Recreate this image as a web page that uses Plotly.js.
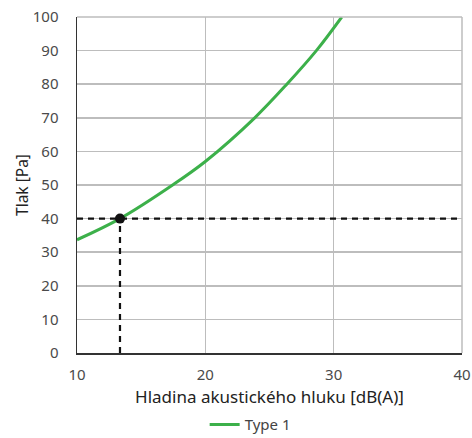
<!DOCTYPE html>
<html>
<head>
<meta charset="utf-8">
<script src="https://cdn.plot.ly/plotly-3.0.1.min.js"></script>
<style>html,body{margin:0;padding:0;background:#fff;}#chart{width:472px;height:438px;}</style>
</head>
<body>
<div id="chart"></div>
<script>
// Curve
const curveX = [10, 13.35, 17.45, 20, 23.85, 26.35, 28.65, 30.63];
const curveY = [33.7, 40, 50, 57, 70, 80, 90, 100];
const seriesName = "Type 1";

// Operating point and guide lines
const pointX = [13.35];
const pointY = [40];
const hGuideX = [10, 40];
const hGuideY = [40, 40];
const vGuideX = [13.35, 13.35];
const vGuideY = [0, 40];

const xTicks = [10, 20, 30, 40];
const yTicks = [0, 10, 20, 30, 40, 50, 60, 70, 80, 90, 100];

const FONT = "'Noto Sans', 'Open Sans', sans-serif";

const traces = [
  {x: curveX, y: curveY, mode: "lines", name: seriesName,
   line: {color: "#3cb04a", width: 3, shape: "spline", smoothing: 1}, showlegend: true},
  {x: hGuideX, y: hGuideY, mode: "lines", showlegend: false,
   line: {color: "#111", width: 2.2, dash: "6px,5px"}},
  {x: vGuideX, y: vGuideY, mode: "lines", showlegend: false,
   line: {color: "#111", width: 2.2, dash: "6px,5px"}},
  {x: pointX, y: pointY, mode: "markers", showlegend: false,
   marker: {color: "#111", size: 10}}
];

const layout = {
  width: 472, height: 438,
  margin: {l: 77, r: 10, t: 17, b: 85},
  paper_bgcolor: "#fff", plot_bgcolor: "#fff",
  font: {family: FONT, color: "#444", size: 15},
  xaxis: {
    range: [10, 40], tickvals: xTicks, ticktext: xTicks.map(String),
    showgrid: true, gridcolor: "#bdbdbd", gridwidth: 1.5,
    zeroline: false, showline: true, linecolor: "#333", linewidth: 1.5,
    ticks: "", ticklabelstandoff: 7,
    tickfont: {family: FONT, size: 15, color: "#4a4a4a"},
    title: {text: "Hladina akustického hluku [dB(A)]", font: {family: FONT, size: 17, color: "#222"}, standoff: 9}
  },
  yaxis: {
    range: [0, 100], tickvals: yTicks, ticktext: yTicks.map(String),
    showgrid: true, gridcolor: "#bdbdbd", gridwidth: 1.5,
    zeroline: false, showline: true, linecolor: "#333", linewidth: 1.5,
    ticks: "", ticklabelstandoff: 14,
    tickfont: {family: FONT, size: 15, color: "#4a4a4a"},
    title: {text: "Tlak [Pa]", font: {family: FONT, size: 15.5, color: "#222"}, standoff: 0}
  },
  shapes: [
    {type: "line", xref: "paper", yref: "paper", x0: 1, x1: 1, y0: 0, y1: 1, line: {color: "#bdbdbd", width: 1.5}},
    {type: "line", xref: "paper", yref: "paper", x0: 0, x1: 1, y0: 1, y1: 1, line: {color: "#bdbdbd", width: 1.5}}
  ],
  legend: {orientation: "h", x: 0.53, xanchor: "center", xref: "container", y: 0.068, yanchor: "top", yref: "container",
           font: {family: FONT, size: 15, color: "#444"}, bgcolor: "rgba(0,0,0,0)", itemwidth: 30},
  showlegend: true
};

Plotly.newPlot("chart", traces, layout, {displayModeBar: false, staticPlot: true});
</script>
</body>
</html>
